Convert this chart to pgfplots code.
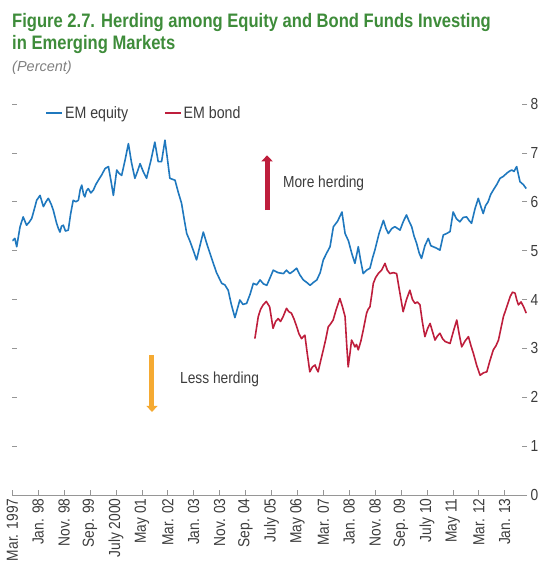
\documentclass[border=0pt]{standalone}
\usepackage{fontspec}
\setmainfont{Liberation Sans}
\newfontfamily\titlefont[FakeStretch=0.85]{Liberation Sans}
\newfontfamily\condfont[FakeStretch=0.86]{Liberation Sans}
\usepackage{pgfplots}
\pgfplotsset{compat=1.18}
\usetikzlibrary{arrows.meta}
\definecolor{titlegreen}{RGB}{62,140,58}
\definecolor{eqblue}{RGB}{31,120,190}
\definecolor{bondred}{RGB}{190,30,60}
\definecolor{arroworange}{RGB}{245,170,50}
\definecolor{axisgray}{RGB}{150,150,150}
\definecolor{labgray}{RGB}{60,60,60}
\begin{document}
\begin{tikzpicture}
\useasboundingbox (0pt,0pt) rectangle (547pt,575pt);
\node[anchor=base west, inner sep=0pt, text=titlegreen, font=\titlefont\bfseries\fontsize{19.5}{21}\selectfont] at (12pt,547pt) {Figure 2.7. Herding among Equity and Bond Funds Investing};
\node[anchor=base west, inner sep=0pt, text=titlegreen, font=\titlefont\bfseries\fontsize{19.5}{21}\selectfont] at (12pt,525pt) {in Emerging Markets};
\node[anchor=base west, inner sep=0pt, text=gray, font=\itshape\fontsize{14.5}{16}\selectfont] at (12pt,503pt) {(Percent)};

\begin{axis}[
  at={(12.3pt,80pt)}, anchor=south west,
  scale only axis, width=514.7pt, height=391pt,
  xmin=0, xmax=198.6, ymin=0, ymax=8,
  axis x line*=bottom, axis y line*=right,
  x axis line style={draw=axisgray, line width=0.8pt, -},
  y axis line style={draw=none},
  xtick={0,10,...,190},
  xticklabels={Mar. 1997, Jan. 98, Nov. 98, Sep. 99, July 2000, May 01, Mar. 02, Jan. 03, Nov. 03, Sep. 04, July 05, May 06, Mar. 07, Jan. 08, Nov. 08, Sep. 09, July 10, May 11, Mar. 12, Jan. 13},
  xticklabel style={rotate=90, anchor=east, font=\condfont\fontsize{16}{17}\selectfont, text=labgray},
  ytick={0,1,...,8},
  yticklabel style={font=\condfont\fontsize{16}{17}\selectfont, text=labgray},
  /pgf/number format/assume math mode=true,
  tick align=inside,
  major tick length=5pt,
  tick style={draw=axisgray, line width=0.7pt},
  legend style={draw=none, fill=none, at={(0.064,0.977)}, anchor=west, font=\condfont\fontsize{16.5}{17}\selectfont, text=labgray, legend columns=2, /tikz/every even column/.append style={column sep=34pt}, inner sep=0pt},
  legend cell align=left,
  legend image code/.code={\draw[#1] (0pt,0pt) -- (16pt,0pt);},
]
\addplot[color=eqblue, line width=1.6pt, line join=round] coordinates {
(0,5.20) (1,5.25) (1.7,5.08) (3,5.49) (4.2,5.69) (5.5,5.52) (6.5,5.58) (7.5,5.66) (8.5,5.85) (9.4,6.03)
(10.7,6.13) (12,5.90) (13,6.00) (13.9,6.07) (15,5.95) (15.8,5.83) (17.1,5.56) (17.8,5.45) (18.4,5.38) (19,5.50)
(19.7,5.52) (20.5,5.40) (21.6,5.42) (22.5,5.75) (23.5,6.03) (24.5,6.00) (25.5,6.03) (26.2,6.25) (26.8,6.34) (27.5,6.15)
(28,6.10) (28.6,6.22) (29.3,6.27) (30.3,6.18) (31.3,6.24) (32.2,6.35) (33.2,6.44) (34.5,6.55) (35.8,6.68) (37.1,6.72)
(38,6.45) (39,6.13) (40.3,6.65) (41.2,6.58) (42.2,6.54) (43.5,6.85) (44.8,7.19) (46,6.80) (47.3,6.48) (48.3,6.62)
(49.3,6.78) (50.5,6.62) (51.8,6.48) (53.5,6.85) (55.0,7.22) (56.3,6.82) (57.6,6.82) (58.9,7.26) (59.8,6.90) (60.8,6.48)
(62.8,6.44) (64,6.20) (65.3,5.97) (66.3,5.65) (67.3,5.35) (68.5,5.20) (70,4.98) (71.1,4.81) (72.4,5.10) (73.7,5.38)
(75,5.15) (76.3,4.94) (77.5,4.75) (78.8,4.55) (80.8,4.33) (82,4.30) (83.3,4.19) (84.5,3.90) (85.9,3.63) (86.8,3.80)
(87.8,3.99) (89,3.90) (90.4,3.92) (91.7,4.10) (93.0,4.33) (94.3,4.30) (95.6,4.40) (96.9,4.32) (98.2,4.29) (99.5,4.45)
(100.7,4.60) (102.5,4.55) (104.6,4.53) (105.8,4.60) (107.1,4.53) (108.4,4.58) (109.7,4.64) (111,4.50) (112.3,4.40) (113.6,4.35)
(114.9,4.29) (116.2,4.35) (117.5,4.40) (118.8,4.55) (120.0,4.81) (121.3,4.95) (122.6,5.08) (123.9,5.49) (125.5,5.60) (127.2,5.79)
(128.4,5.35) (129.7,5.20) (131.0,4.94) (132.2,4.74) (133.5,5.08) (134.4,4.80) (135.4,4.53) (136.7,4.60) (138.0,4.64) (139.0,4.85)
(139.9,5.01) (141.5,5.35) (143.2,5.62) (144.2,5.45) (145.1,5.35) (146.4,5.45) (147.6,5.49) (149.6,5.42) (150.9,5.60) (152.1,5.73)
(153.1,5.60) (154.1,5.49) (155,5.30) (156.0,5.15) (157,4.95) (157.9,4.84) (159.2,5.10) (160.5,5.25) (161.5,5.10) (162.4,5.08)
(163.7,5.05) (165.0,5.01) (166.3,5.32) (167.6,5.35) (168.9,5.39) (170.1,5.79) (171.4,5.65) (172.7,5.59) (174,5.68) (175.3,5.69)
(176.2,5.62) (177.2,5.56) (178.5,5.85) (179.8,6.07) (180.8,5.90) (181.7,5.76) (182.6,5.92) (183.6,6.00) (184.6,6.15) (185.6,6.24)
(186.9,6.35) (188.2,6.48) (189.5,6.52) (190.7,6.58) (191.7,6.62) (192.7,6.65) (193.6,6.62) (194.6,6.72) (195.3,6.55) (195.9,6.41)
(197.2,6.35) (198.3,6.27)
};
\addlegendentry{EM equity}
\addplot[color=bondred, line width=1.6pt, line join=round] coordinates {
(93.6,3.20) (94.9,3.65) (95.8,3.80) (96.8,3.89) (98.0,3.96) (99.3,3.85) (100.6,3.41) (101.6,3.55) (102.6,3.61) (103.5,3.55)
(104.5,3.65) (105.8,3.82) (106.7,3.75) (107.7,3.72) (108.7,3.60) (109.7,3.45) (110.6,3.30) (111.6,3.20) (112.9,3.27) (113.8,2.90)
(114.8,2.52) (115.8,2.62) (116.8,2.66) (117.4,2.58) (118.0,2.52) (119,2.75) (120.0,2.97) (121,3.20) (121.9,3.44) (122.8,3.50)
(123.8,3.58) (125,3.80) (126.4,4.02) (127.4,3.85) (128.4,3.65) (129.0,3.10) (129.6,2.62) (130.3,2.90) (130.9,3.17) (131.6,3.10)
(132.2,3.03) (132.8,3.08) (133.5,2.97) (134.5,3.15) (135.4,3.37) (136.7,3.72) (137.3,3.80) (138.0,3.85) (138.7,4.10) (139.3,4.33)
(140.2,4.45) (141.2,4.53) (142.5,4.60) (143.8,4.74) (144.7,4.60) (145.7,4.53) (147,4.55) (148.3,4.53) (149.5,4.15) (150.8,3.75)
(152.1,4.00) (153.4,4.19) (154.4,4.00) (155.4,3.92) (156.3,3.95) (157.3,3.89) (158.2,3.55) (159.2,3.24) (160.2,3.40) (161.2,3.51)
(162.1,3.35) (163.1,3.17) (164,3.25) (165.0,3.31) (166,3.20) (167.0,3.14) (168,3.12) (168.9,3.10) (170.2,3.35) (171.5,3.58)
(172.4,3.30) (173.4,3.03) (174.7,3.15) (176.0,3.24) (177,3.05) (177.9,2.90) (179.2,2.65) (180.5,2.45) (181.8,2.50) (183.1,2.52)
(184.3,2.75) (185.6,2.97) (186.6,3.05) (187.6,3.17) (188.5,3.40) (189.5,3.65) (190.8,3.85) (192.1,4.06) (193,4.15) (194.0,4.13)
(194.6,4.00) (195.3,3.89) (196.3,3.95) (197.3,3.85) (198.3,3.72)
};
\addlegendentry{EM bond}
\draw[bondred, line width=5pt, -{Triangle[length=6pt, width=11pt]}] (axis cs:98.3,5.83) -- (axis cs:98.3,6.95);
\node[anchor=west, inner sep=0pt, text=labgray, font=\condfont\fontsize{16}{17}\selectfont] at (axis cs:104.4,6.38) {More herding};
\draw[arroworange, line width=5pt, -{Triangle[length=6pt, width=11pt]}] (axis cs:53.9,2.86) -- (axis cs:53.9,1.70);
\node[anchor=west, inner sep=0pt, text=labgray, font=\condfont\fontsize{16}{17}\selectfont] at (axis cs:64.7,2.37) {Less herding};
\end{axis}

\begin{axis}[
  at={(12.3pt,80pt)}, anchor=south west,
  scale only axis, width=514.7pt, height=391pt,
  xmin=0, xmax=198.6, ymin=0, ymax=8,
  axis x line=none, axis y line*=left,
  y axis line style={draw=none},
  ytick={1,2,...,8}, yticklabels={},
  tick align=inside, major tick length=5pt,
  tick style={draw=axisgray, line width=0.7pt},
]
\end{axis}
\end{tikzpicture}
\end{document}
